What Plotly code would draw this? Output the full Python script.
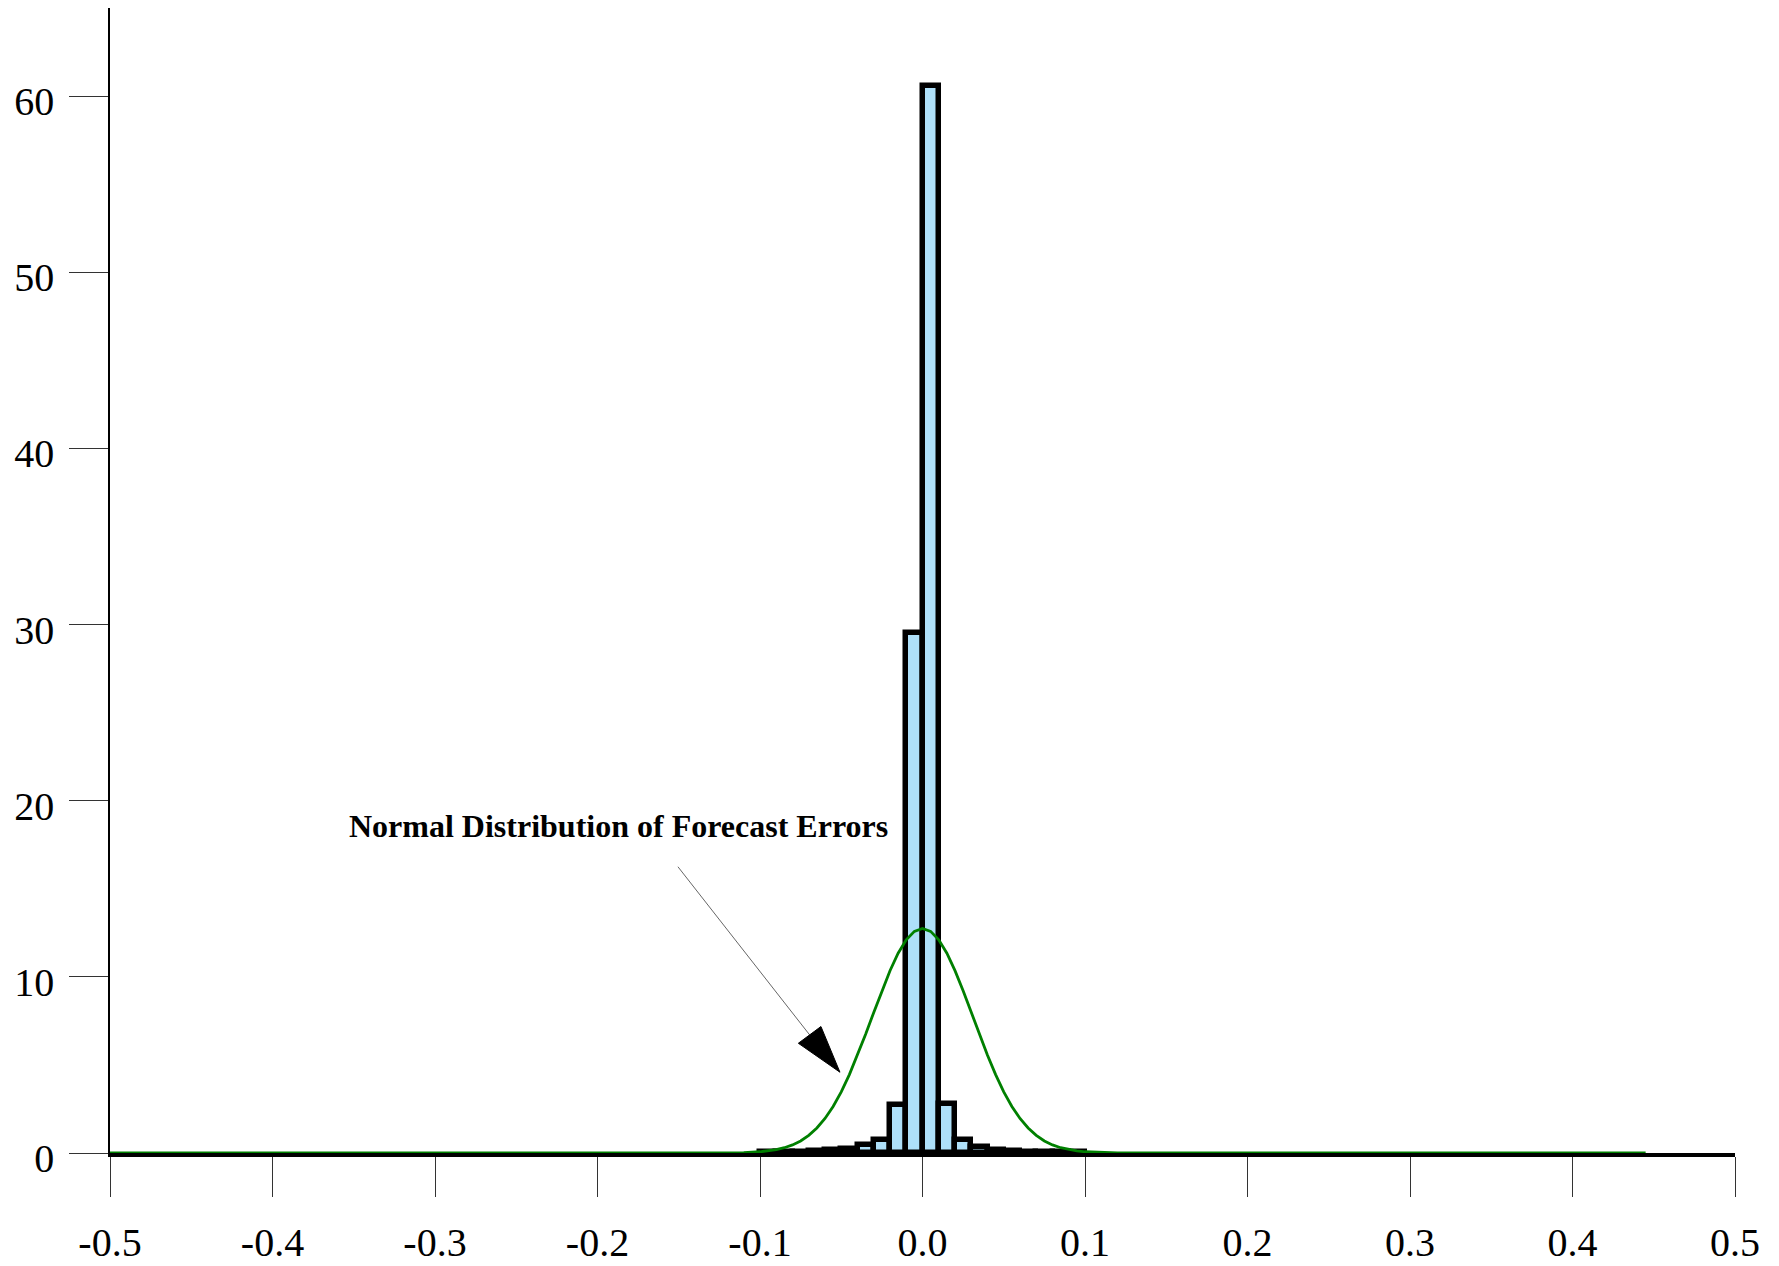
import plotly.graph_objects as go

# Histogram bins (bin width 0.01), centers and density heights
bar_x = [-0.095, -0.085, -0.075, -0.065, -0.055, -0.045, -0.035, -0.025, -0.015, -0.005,
         0.005, 0.015, 0.025, 0.035, 0.045, 0.055, 0.065, 0.075, 0.085, 0.095]
bar_y = [0.03, 0.05, 0.07, 0.10, 0.15, 0.25, 0.45, 0.75, 2.7, 29.5,
         60.6, 2.8, 0.72, 0.32, 0.18, 0.10, 0.07, 0.05, 0.04, 0.03]

# Normal distribution curve
curve_x = [-0.5, -0.12, -0.11, -0.1, -0.095, -0.09, -0.085, -0.08, -0.075, -0.07, -0.065,
           -0.06, -0.055, -0.05, -0.045, -0.04, -0.035, -0.03, -0.025, -0.02, -0.015,
           -0.01, -0.005, 0.0, 0.005, 0.01, 0.015, 0.02, 0.025, 0.03, 0.035, 0.04,
           0.045, 0.05, 0.055, 0.06, 0.065, 0.07, 0.075, 0.08, 0.085, 0.09, 0.095,
           0.1, 0.11, 0.12, 0.445]
curve_y = [0.0, 0.01, 0.02, 0.07, 0.12, 0.19, 0.30, 0.46, 0.68, 1.00, 1.42,
           1.96, 2.64, 3.47, 4.45, 5.55, 6.74, 7.98, 9.21, 10.35, 11.34,
           12.10, 12.58, 12.75, 12.58, 12.10, 11.34, 10.35, 9.21, 7.98, 6.74, 5.55,
           4.45, 3.47, 2.64, 1.96, 1.42, 1.00, 0.68, 0.46, 0.30, 0.19, 0.12,
           0.07, 0.02, 0.01, 0.0]

x_ticks = [-0.5, -0.4, -0.3, -0.2, -0.1, 0.0, 0.1, 0.2, 0.3, 0.4, 0.5]
x_labels = ["-0.5", "-0.4", "-0.3", "-0.2", "-0.1", "0.0", "0.1", "0.2", "0.3", "0.4", "0.5"]
y_ticks = [0, 10, 20, 30, 40, 50, 60]
y_labels = ["0", "10", "20", "30", "40", "50", "60"]

annotation_text = "Normal Distribution of Forecast Errors"

FONT = "Liberation Serif, Times New Roman, serif"

fig = go.Figure()
fig.add_trace(go.Bar(
    x=bar_x, y=bar_y, width=0.01,
    marker=dict(color="#AEE0F9", line=dict(color="black", width=5.5)),
    showlegend=False,
))
fig.add_trace(go.Scatter(
    x=curve_x, y=curve_y, mode="lines",
    line=dict(color="#008000", width=2.8),
    showlegend=False,
))

fig.add_shape(type="line", xref="x", yref="y",
              x0=-0.1505, y0=16.25, x1=-0.0694, y1=6.70,
              line=dict(color="#666666", width=1))
fig.add_shape(type="path", xref="x", yref="y",
              path="M -0.0508,4.585 L -0.0764,6.23 L -0.0625,7.18 Z",
              fillcolor="black", line=dict(color="black", width=1))

fig.add_annotation(x=-0.1868, y=18.58, xref="x", yref="y",
                   text="<b>" + annotation_text + "</b>", showarrow=False,
                   xanchor="center", yanchor="middle",
                   font=dict(family=FONT, size=32, color="black"))

fig.update_layout(
    width=1779, height=1266,
    margin=dict(l=110, r=44, t=8, b=113, autoexpand=False),
    plot_bgcolor="white", paper_bgcolor="white",
    bargap=0,
    font=dict(family=FONT, size=40, color="black"),
)
fig.update_xaxes(
    range=[-0.5, 0.5], tickvals=x_ticks, ticktext=x_labels,
    ticks="outside", ticklen=40, tickwidth=1, tickcolor="#333333",
    showgrid=False, zeroline=False, automargin=False,
    showline=True, linecolor="black", linewidth=4,
    layer="below traces",
    ticklabelstandoff=11,
    tickfont=dict(family=FONT, size=40, color="black"),
)
fig.update_yaxes(
    range=[0, 65], tickvals=y_ticks, ticktext=y_labels,
    ticks="outside", ticklen=39, tickwidth=1, tickcolor="#333333",
    showgrid=False, zeroline=False, automargin=False,
    showline=True, linecolor="black", linewidth=1.5,
    ticklabelstandoff=7, ticklabelshift=5,
    tickfont=dict(family=FONT, size=40, color="black"),
)

fig.write_html("out.html")
